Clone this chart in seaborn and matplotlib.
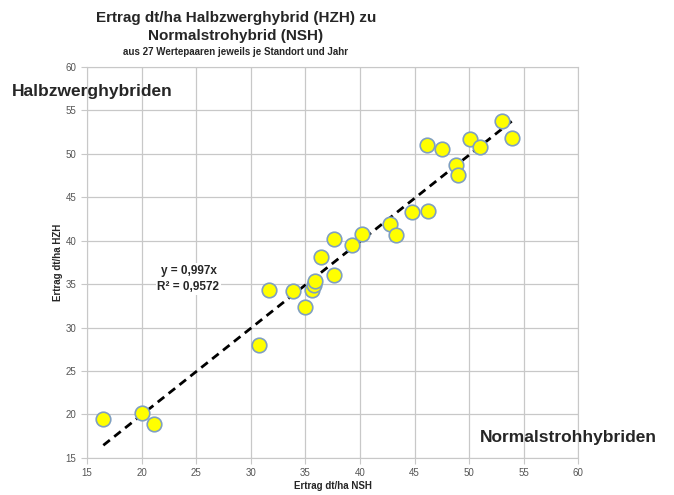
import matplotlib
matplotlib.use("Agg")
import matplotlib.pyplot as plt
import numpy as np
import pandas as pd
import seaborn as sns

# yields dt/ha, one pair per site and year
nsh = [16.5, 20.0, 21.1, 30.8, 31.7, 33.9, 35.0, 35.6, 35.8, 35.9,
       36.4, 37.6, 37.6, 39.3, 40.2, 42.8, 43.3, 44.8, 46.2, 46.1,
       47.5, 48.8, 49.0, 50.1, 51.0, 53.0, 53.9]
hzh = [19.5, 20.2, 18.9, 28.0, 34.3, 34.2, 32.4, 34.3, 34.9, 35.4,
       38.1, 36.0, 40.2, 39.5, 40.8, 41.9, 40.7, 43.3, 43.4, 51.0,
       50.5, 48.7, 47.6, 51.7, 50.8, 53.8, 51.8]
slope = 0.997
r2 = 0.9572

df = pd.DataFrame({"NSH": nsh, "HZH": hzh})

sns.set_style("white")
plt.rcParams["font.family"] = ["Liberation Sans", "DejaVu Sans"]

fig = plt.figure(figsize=(6.74, 4.95), dpi=100)
ax = fig.add_axes([0.129, 0.075, 0.729, 0.79])

# trend line through origin, drawn over the data range
xs = np.array([df.NSH.min(), df.NSH.max()])
ax.plot(xs, slope * xs, ls=(0, (3, 2)), color="black", lw=2, zorder=2)

sns.scatterplot(data=df, x="NSH", y="HZH", ax=ax, s=110, color="#FFFF00",
                edgecolor="#7F9FC0", linewidth=1.2, zorder=3)

ax.set_xlim(15, 60)
ax.set_ylim(15, 60)
ax.set_xticks(range(15, 61, 5))
ax.set_yticks(range(15, 61, 5))
ax.grid(True, color="#C8C8C8", lw=0.9)
for s in ax.spines.values():
    s.set_color("#C8C8C8")
ax.tick_params(axis="both", labelsize=7, colors="#555555", length=4,
               color="#C8C8C8", left=True, bottom=True)

ax.set_xlabel("Ertrag dt/ha NSH", fontsize=7, fontweight="bold", labelpad=2)
ax.set_ylabel("Ertrag dt/ha HZH", fontsize=7, fontweight="bold", labelpad=2)

ax.text(24.3, 35.6, "y = 0,997x\nR² = 0,9572", fontsize=8.5, fontweight="bold",
        ha="center", va="center", linespacing=1.5,
        bbox=dict(facecolor="white", edgecolor="none", pad=1))

fig.text(0.35, 0.978, "Ertrag dt/ha Halbzwerghybrid (HZH) zu\nNormalstrohybrid (NSH)",
         ha="center", va="top", fontsize=11, fontweight="bold", linespacing=1.35)
fig.text(0.35, 0.905, "aus 27 Wertepaaren jeweils je Standort und Jahr",
         ha="center", va="top", fontsize=7, fontweight="bold")

fig.text(0.018, 0.815, "Halbzwerghybriden", fontsize=12.5, fontweight="bold",
         ha="left", va="center")
fig.text(0.975, 0.117, "Normalstrohhybriden", fontsize=12.5, fontweight="bold",
         ha="right", va="center")

fig.savefig("out.png", dpi=100)
